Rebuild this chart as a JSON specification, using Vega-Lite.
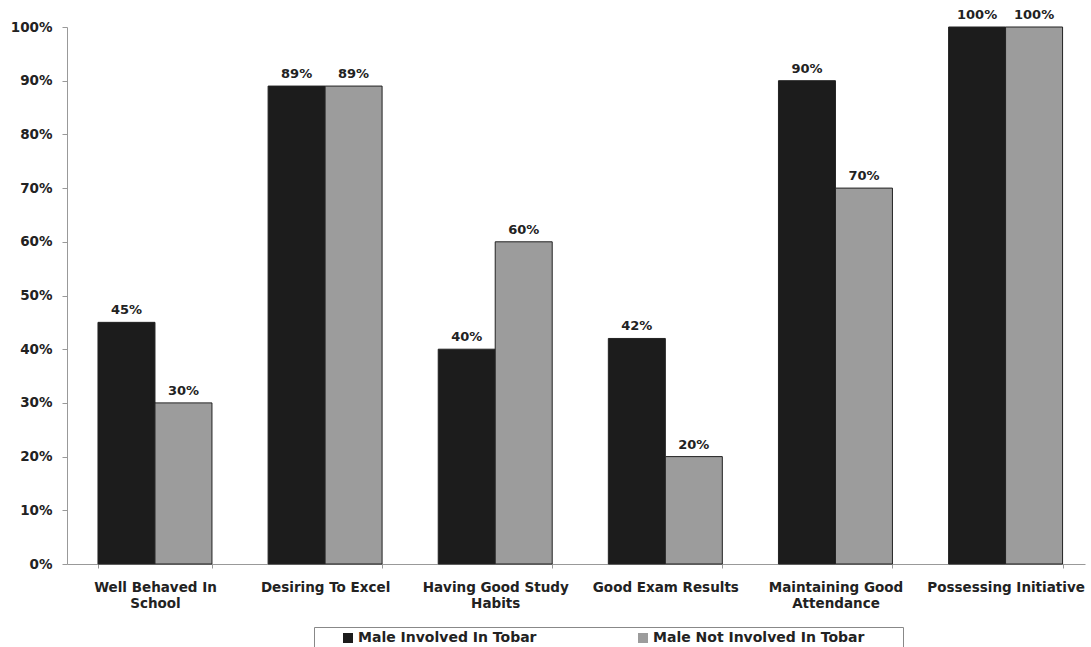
{
  "$schema": "https://vega.github.io/schema/vega-lite/v6.json",
  "width": 1018,
  "height": 537,
  "autosize": {"type": "none"},
  "padding": {"left": 67, "top": 27, "right": 6, "bottom": 83},
  "background": "white",
  "config": {
    "view": {"stroke": null},
    "font": "DejaVu Sans",
    "axis": {"labelFont": "DejaVu Sans", "labelFontWeight": "bold", "labelColor": "#222", "domainColor": "#999", "tickColor": "#999"}
  },
  "data": {
    "values": [
      {"category": "Well Behaved In School", "group": "Male Involved In Tobar", "value": 0.45},
      {"category": "Well Behaved In School", "group": "Male Not Involved In Tobar", "value": 0.30},
      {"category": "Desiring To Excel", "group": "Male Involved In Tobar", "value": 0.89},
      {"category": "Desiring To Excel", "group": "Male Not Involved In Tobar", "value": 0.89},
      {"category": "Having Good Study Habits", "group": "Male Involved In Tobar", "value": 0.40},
      {"category": "Having Good Study Habits", "group": "Male Not Involved In Tobar", "value": 0.60},
      {"category": "Good Exam Results", "group": "Male Involved In Tobar", "value": 0.42},
      {"category": "Good Exam Results", "group": "Male Not Involved In Tobar", "value": 0.20},
      {"category": "Maintaining Good Attendance", "group": "Male Involved In Tobar", "value": 0.90},
      {"category": "Maintaining Good Attendance", "group": "Male Not Involved In Tobar", "value": 0.70},
      {"category": "Possessing Initiative", "group": "Male Involved In Tobar", "value": 1.00},
      {"category": "Possessing Initiative", "group": "Male Not Involved In Tobar", "value": 1.00}
    ]
  },
  "encoding": {
    "x": {
      "field": "category", "type": "nominal", "sort": null, "title": null,
      "scale": {"paddingInner": 0.33, "paddingOuter": 0.157, "align": 0.58},
      "axis": {
        "labelAngle": 0, "labelFontSize": 13.5, "labelPadding": 19, "tickBand": "extent", "tickSize": 4,
        "labelExpr": "datum.value == 'Well Behaved In School' ? ['Well Behaved In', 'School'] : datum.value == 'Having Good Study Habits' ? ['Having Good Study', 'Habits'] : datum.value == 'Maintaining Good Attendance' ? ['Maintaining Good', 'Attendance'] : datum.value",
        "labelLineHeight": 16, "labelBaseline": "middle"
      }
    },
    "xOffset": {"field": "group", "type": "nominal"},
    "y": {
      "field": "value", "type": "quantitative", "title": null,
      "scale": {"domain": [0, 1]},
      "axis": {"format": ".0%", "values": [0,0.1,0.2,0.3,0.4,0.5,0.6,0.7,0.8,0.9,1], "labelOverlap": false, "grid": false, "labelFontSize": 13.5, "tickSize": 5, "labelPadding": 10}
    }
  },
  "layer": [
    {
      "mark": {"type": "bar", "stroke": "#222", "strokeWidth": 1},
      "encoding": {
        "color": {
          "field": "group", "type": "nominal", "title": " ",
          "scale": {"range": ["#1c1c1c", "#9c9c9c"]},
          "legend": {
            "orient": "none", "legendX": 247, "legendY": 600, "direction": "horizontal",
            "columns": 2, "columnPadding": 76, "symbolType": "square", "symbolSize": 100,
            "symbolStrokeWidth": 0, "symbolOffset": 23, "labelFontSize": 14, "labelFontWeight": "bold", "labelColor": "#222", "labelFont": "DejaVu Sans", "labelLimit": 400,
            "padding": 4, "strokeColor": "#888", "fillColor": "white", "labelOffset": 3,
            "titleOrient": "right", "titlePadding": 35
          }
        }
      }
    },
    {
      "mark": {"type": "text", "dy": -12, "fontSize": 13, "fontWeight": "bold", "color": "#222", "font": "DejaVu Sans"},
      "encoding": {
        "text": {"field": "value", "type": "quantitative", "format": ".0%"}
      }
    }
  ]
}
